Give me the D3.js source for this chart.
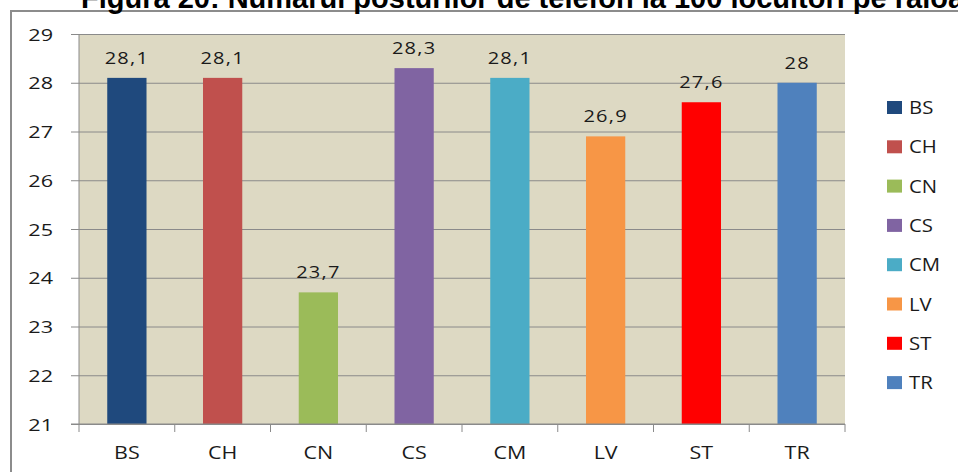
<!DOCTYPE html>
<html>
<head>
<meta charset="utf-8">
<script src="https://cdn.jsdelivr.net/npm/d3@7"></script>
<style>
  body { margin: 0; background: #fff; }
  svg { display: block; }
  text { font-family: "Open Sans", sans-serif; fill: #1a1a1a; }
</style>
</head>
<body>
<svg width="958" height="472"></svg>
<script>
// data
var categories = ["BS", "CH", "CN", "CS", "CM", "LV", "ST", "TR"];
var values = [28.1, 28.1, 23.7, 28.3, 28.1, 26.9, 27.6, 28];
var valueLabels = ["28,1", "28,1", "23,7", "28,3", "28,1", "26,9", "27,6", "28"];
var colors = ["#1F497D", "#C0504D", "#9BBB59", "#8064A2", "#4BACC6", "#F79646", "#FF0000", "#4F81BD"];
var yTicks = [21, 22, 23, 24, 25, 26, 27, 28, 29];

var svg = d3.select("svg");

// the scanned chart is stretched sideways, so its text is too
function place(x, y, sx) {
    return "translate(" + x + "," + y + ") scale(" + sx + ",1)";
}

// frame round the chart
svg.append("rect")
    .attr("x", 11).attr("y", 11)
    .attr("width", 980).attr("height", 500)
    .attr("fill", "none")
    .attr("stroke", "#8c8c8c")
    .attr("stroke-width", 2);

// title, cut at the top as in the scan
svg.append("text")
    .attr("x", 81).attr("y", 8)
    .style("font-family", "'Liberation Sans', Arial, sans-serif")
    .style("font-weight", "bold")
    .style("font-size", "29px")
    .style("fill", "#000")
    .text("Figura 20: Numărul posturilor de telefon la 100 locuitori pe raioane");

var plotLeft = 79, plotRight = 845, plotTop = 34, plotBottom = 424;

var x = d3.scaleBand().domain(categories).range([plotLeft, plotRight]).paddingInner(0.59).paddingOuter(0.295);
var xTickScale = d3.scaleLinear().domain([0, categories.length]).range([plotLeft, plotRight]);
var y = d3.scaleLinear().domain([21, 29]).range([plotBottom, plotTop]);

// plot background
svg.append("rect")
    .attr("x", plotLeft).attr("y", plotTop)
    .attr("width", plotRight - plotLeft).attr("height", plotBottom - plotTop)
    .attr("fill", "#DDD9C3");

// gridlines + y axis (ticks stick out 8px on the left)
var yAxis = d3.axisLeft(y)
    .tickValues(yTicks)
    .tickSize(-(plotRight - plotLeft) - 8)
    .tickFormat(d3.format("d"));

var gy = svg.append("g")
    .attr("transform", "translate(" + (plotLeft - 8) + ",0)")
    .call(yAxis);
gy.select(".domain").remove();
gy.selectAll(".tick line").attr("stroke", "#8a8a8a");
gy.selectAll(".tick text")
    .attr("x", 0)
    .attr("dy", "0.36em")
    .attr("text-anchor", "end")
    .attr("transform", place(-18, 0, 1.27))
    .style("font-size", "17px")
    .style("font-family", "'Open Sans', sans-serif")
    .style("fill", "#1a1a1a");

// left axis line
svg.append("line")
    .attr("x1", plotLeft).attr("x2", plotLeft)
    .attr("y1", plotTop).attr("y2", plotBottom)
    .attr("stroke", "#8a8a8a");

// bars
svg.append("g").selectAll("rect")
    .data(values)
    .enter().append("rect")
    .attr("x", function(d, i) { return x(categories[i]); })
    .attr("y", function(d) { return y(d); })
    .attr("width", x.bandwidth())
    .attr("height", function(d) { return y(21) - y(d); })
    .attr("fill", function(d, i) { return colors[i]; });

// value labels
svg.append("g").selectAll("text")
    .data(values)
    .enter().append("text")
    .attr("transform", function(d, i) {
        return place(x(categories[i]) + x.bandwidth() / 2, y(d) - 14, 1.25);
    })
    .attr("text-anchor", "middle")
    .style("font-size", "16px")
    .style("letter-spacing", "1px")
    .text(function(d, i) { return valueLabels[i]; });

// x axis with ticks on category boundaries
svg.append("line")
    .attr("x1", plotLeft - 8).attr("x2", plotRight)
    .attr("y1", plotBottom).attr("y2", plotBottom)
    .attr("stroke", "#8a8a8a");

svg.append("g").selectAll("line")
    .data(d3.range(categories.length + 1))
    .enter().append("line")
    .attr("x1", function(d) { return xTickScale(d); })
    .attr("x2", function(d) { return xTickScale(d); })
    .attr("y1", plotBottom).attr("y2", plotBottom + 8)
    .attr("stroke", "#8a8a8a");

svg.append("g").selectAll("text")
    .data(categories)
    .enter().append("text")
    .attr("transform", function(d) { return place(x(d) + x.bandwidth() / 2, 459, 1.13); })
    .attr("text-anchor", "middle")
    .style("font-size", "19px")
    .text(function(d) { return d; });

// legend
var legend = svg.append("g").selectAll("g")
    .data(categories)
    .enter().append("g")
    .attr("transform", function(d, i) { return "translate(887," + (101 + i * 39.3) + ")"; });

legend.append("rect")
    .attr("width", 15).attr("height", 13)
    .attr("fill", function(d, i) { return colors[i]; });

legend.append("text")
    .attr("transform", place(22, 13, 1.13))
    .style("font-size", "18px")
    .text(function(d) { return d; });
</script>
</body>
</html>
